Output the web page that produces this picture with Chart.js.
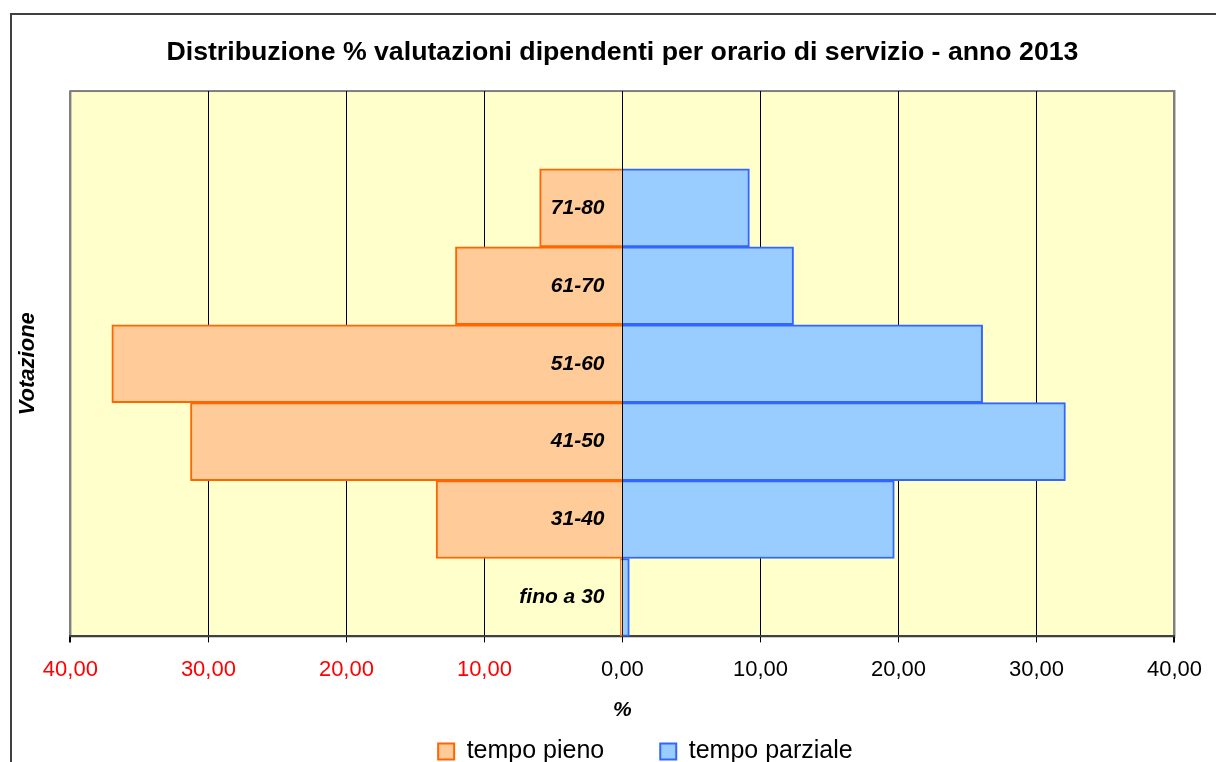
<!DOCTYPE html>
<html>
<head>
<meta charset="utf-8">
<script src="https://cdn.jsdelivr.net/npm/chart.js@4"></script>
<style>
  html, body { margin: 0; padding: 0; background: #fff; overflow: hidden; }
  #frame {
    position: absolute; left: 10px; top: 13px; width: 1400px; height: 900px;
    border-left: 2px solid #404040; border-top: 2px solid #404040;
  }
  #wrap { position: absolute; left: 0; top: 0; width: 1216px; height: 762px; }
</style>
</head>
<body>
<div id="frame"></div>
<div id="wrap"><canvas id="chart"></canvas></div>
<script>
// categorie (dall'alto in basso), la prima è vuota
const categories = ['', '71-80', '61-70', '51-60', '41-50', '31-40', 'fino a 30'];
// valori in %
const tempoPieno = [null, 6.0, 12.1, 37.0, 31.3, 13.5, 0.15];
const tempoParziale = [null, 9.2, 12.4, 26.1, 32.1, 19.7, 0.5];
const xMin = -40, xMax = 40, xStep = 10;

Chart.defaults.font.family = '"Liberation Sans", Arial, sans-serif';
Chart.defaults.color = '#000';

// sfondo giallo dell'area del grafico + bordo grigio
const plotBg = {
  id: 'plotBg',
  beforeDraw(chart) {
    const { ctx, chartArea: a } = chart;
    ctx.save();
    ctx.fillStyle = '#FFFFCC';
    ctx.fillRect(a.left, a.top, a.right - a.left, a.bottom - a.top);
    ctx.strokeStyle = '#808080';
    ctx.lineWidth = 2;
    ctx.strokeRect(a.left, a.top, a.right - a.left, a.bottom - a.top);
    ctx.restore();
  }
};

// centra la legenda sotto l'area del grafico, come nell'originale
const legendShift = {
  id: 'legendShift',
  afterLayout(chart) {
    const a = chart.chartArea, l = chart.legend;
    const dx = (a.left + a.right) / 2 + 23 - (l.left + l.right) / 2;
    l.left += dx;
    l.right += dx;
  }
};

new Chart(document.getElementById('chart'), {
  type: 'bar',
  data: {
    labels: categories,
    datasets: [{
      label: 'tempo pieno',
      data: tempoPieno.map(v => v === null ? null : -v),
      backgroundColor: '#FFCC99',
      borderColor: '#FF6600',
      borderWidth: 2
    }, {
      label: 'tempo parziale',
      data: tempoParziale,
      backgroundColor: '#99CCFF',
      borderColor: '#3366FF',
      borderWidth: 2
    }]
  },
  options: {
    indexAxis: 'y',
    responsive: true,
    maintainAspectRatio: false,
    animation: false,
    datasets: { bar: { categoryPercentage: 1, barPercentage: 1 } },
    layout: { padding: { left: 0, right: 33, top: 0, bottom: -12 } },
    scales: {
      x: {
        stacked: true,
        min: xMin, max: xMax,
        ticks: {
          stepSize: xStep,
          padding: 14,
          font: { size: 22 },
          color: ctx => ctx.tick && ctx.tick.value < 0 ? '#FF0000' : '#000',
          callback: v => Math.abs(v).toFixed(2).replace('.', ',')
        },
        grid: {
          color: ctx => ctx.tick && Math.abs(ctx.tick.value) === xMax ? '#808080' : '#000',
          lineWidth: ctx => ctx.tick && Math.abs(ctx.tick.value) === xMax ? 2 : 1,
          tickColor: '#000',
          tickLength: 6
        },
        border: { color: '#404040', width: 2 },
        title: {
          display: true, text: '%',
          font: { size: 21, weight: 'bold', style: 'italic' },
          padding: { top: 1, bottom: -40 }
        }
      },
      y: {
        stacked: true,
        position: { x: -1.3 },
        ticks: { z: 1, font: { size: 21, weight: 'bold', style: 'italic' }, color: '#000' },
        grid: { display: false, drawTicks: false },
        border: { display: false }
      },
      y2: {
        axis: 'y',
        type: 'category',
        position: 'left',
        ticks: { display: false },
        grid: { display: false, drawTicks: false },
        border: { display: false },
        title: {
          display: true, text: 'Votazione',
          font: { size: 22, weight: 'bold', style: 'italic' },
          padding: { top: 15, bottom: 29 }
        }
      }
    },
    plugins: {
      title: {
        display: true,
        fullSize: false,
        text: 'Distribuzione % valutazioni dipendenti per orario di servizio - anno 2013',
        font: { size: 26.7, weight: 'bold' },
        color: '#000',
        padding: { top: 37, bottom: 22 }
      },
      legend: {
        position: 'bottom',
        labels: { boxWidth: 16, boxHeight: 16, padding: 56, font: { size: 25 }, color: '#000' }
      },
      tooltip: { enabled: false }
    }
  },
  plugins: [plotBg, legendShift]
});
</script>
</body>
</html>
